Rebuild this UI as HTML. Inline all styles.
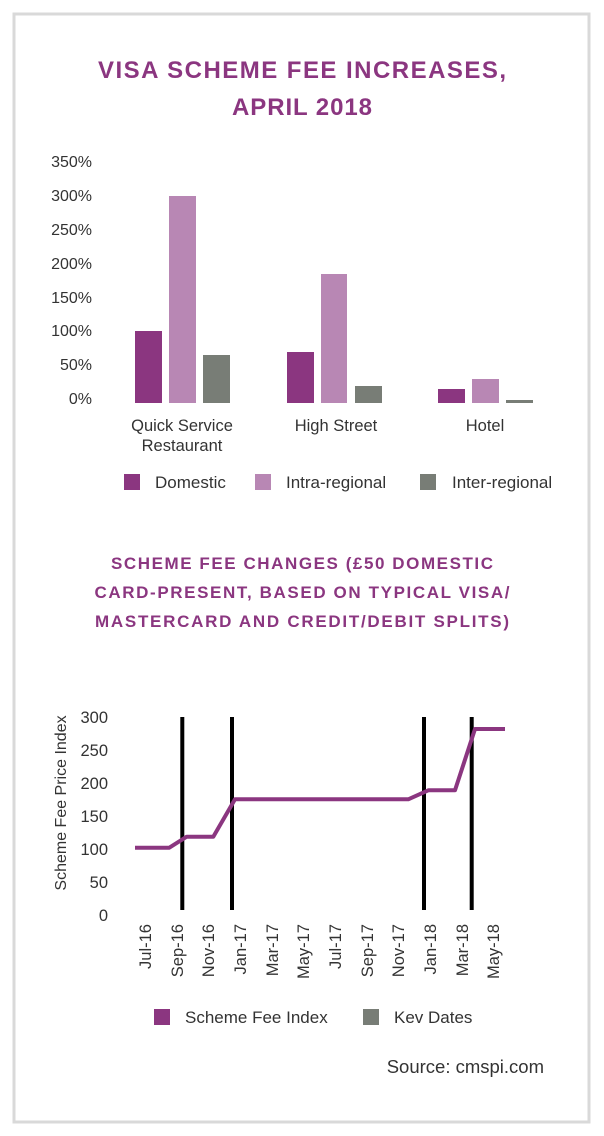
<!DOCTYPE html>
<html><head><meta charset="utf-8"><style>
body{margin:0;background:#fff;}
svg{display:block;font-family:"Liberation Sans",sans-serif;}
</style></head><body>
<svg width="604" height="1136" viewBox="0 0 604 1136">
<rect x="14" y="14" width="575" height="1108" fill="#fff" stroke="#d9d9d9" stroke-width="3"/>
<g fill="#8b3680" font-weight="bold" text-anchor="middle">
<text x="302" y="78" font-size="24" textLength="408" lengthAdjust="spacing">VISA SCHEME FEE INCREASES,</text>
<text x="302" y="115" font-size="24" textLength="140" lengthAdjust="spacing">APRIL 2018</text>
<text x="302" y="569" font-size="17" textLength="382" lengthAdjust="spacing">SCHEME FEE CHANGES (£50 DOMESTIC</text>
<text x="302" y="598" font-size="17" textLength="415" lengthAdjust="spacing">CARD-PRESENT, BASED ON TYPICAL VISA/</text>
<text x="302" y="627" font-size="17" textLength="414" lengthAdjust="spacing">MASTERCARD AND CREDIT/DEBIT SPLITS)</text>
</g>
<g fill="#333" font-size="16" text-anchor="end">
<text x="92" y="167">350%</text><text x="92" y="201">300%</text><text x="92" y="235">250%</text>
<text x="92" y="269">200%</text><text x="92" y="303">150%</text><text x="92" y="336">100%</text>
<text x="92" y="370">50%</text><text x="92" y="404">0%</text>
</g>
<g>
<rect x="135" y="331" width="27" height="72" fill="#8b3680"/>
<rect x="169" y="196" width="27" height="207" fill="#b887b4"/>
<rect x="203" y="355" width="27" height="48" fill="#787d76"/>
<rect x="287" y="352" width="27" height="51" fill="#8b3680"/>
<rect x="321" y="274" width="26" height="129" fill="#b887b4"/>
<rect x="355" y="386" width="27" height="17" fill="#787d76"/>
<rect x="438" y="389" width="27" height="14" fill="#8b3680"/>
<rect x="472" y="379" width="27" height="24" fill="#b887b4"/>
<rect x="506" y="400" width="27" height="3" fill="#787d76"/>
</g>
<g fill="#333" font-size="16.5" text-anchor="middle">
<text x="182" y="431">Quick Service</text><text x="182" y="451">Restaurant</text>
<text x="336" y="431">High Street</text><text x="485" y="431">Hotel</text>
</g>
<rect x="124" y="474" width="16" height="16" fill="#8b3680"/>
<rect x="255" y="474" width="16" height="16" fill="#b887b4"/>
<rect x="420" y="474" width="16" height="16" fill="#787d76"/>
<g fill="#333" font-size="17">
<text x="155" y="488">Domestic</text><text x="286" y="488">Intra-regional</text><text x="452" y="488">Inter-regional</text>
</g>
<g fill="#333" font-size="16.5" text-anchor="end">
<text x="108" y="723">300</text><text x="108" y="756">250</text><text x="108" y="789">200</text>
<text x="108" y="822">150</text><text x="108" y="855">100</text><text x="108" y="888">50</text><text x="108" y="921">0</text>
</g>
<text transform="translate(66,803) rotate(-90)" fill="#333" font-size="16" text-anchor="middle">Scheme Fee Price Index</text>
<g stroke="#000" stroke-width="4">
<line x1="182.3" y1="717" x2="182.3" y2="910"/><line x1="232" y1="717" x2="232" y2="910"/>
<line x1="424" y1="717" x2="424" y2="910"/><line x1="471.7" y1="717" x2="471.7" y2="910"/>
</g>
<polyline fill="none" stroke="#8b3680" stroke-width="4" stroke-linejoin="round" points="135,847.7 169.3,847.7 186.7,836.7 213.3,836.7 235,799.3 408.3,799.3 428.3,790.3 455,790.3 475,729 505,729"/>
<g fill="#333" font-size="16.5" text-anchor="end">
<text transform="translate(151,924) rotate(-90)">Jul-16</text>
<text transform="translate(183,924) rotate(-90)">Sep-16</text>
<text transform="translate(214,924) rotate(-90)">Nov-16</text>
<text transform="translate(246,924) rotate(-90)">Jan-17</text>
<text transform="translate(278,924) rotate(-90)">Mar-17</text>
<text transform="translate(309,924) rotate(-90)">May-17</text>
<text transform="translate(341,924) rotate(-90)">Jul-17</text>
<text transform="translate(373,924) rotate(-90)">Sep-17</text>
<text transform="translate(404,924) rotate(-90)">Nov-17</text>
<text transform="translate(436,924) rotate(-90)">Jan-18</text>
<text transform="translate(468,924) rotate(-90)">Mar-18</text>
<text transform="translate(499,924) rotate(-90)">May-18</text>
</g>
<rect x="154" y="1009" width="16" height="16" fill="#8b3680"/>
<rect x="363" y="1009" width="16" height="16" fill="#787d76"/>
<g fill="#333" font-size="17">
<text x="185" y="1023">Scheme Fee Index</text><text x="394" y="1023">Kev Dates</text>
</g>
<text x="544" y="1073" fill="#333" font-size="18.5" text-anchor="end">Source: cmspi.com</text>
</svg>
</body></html>
